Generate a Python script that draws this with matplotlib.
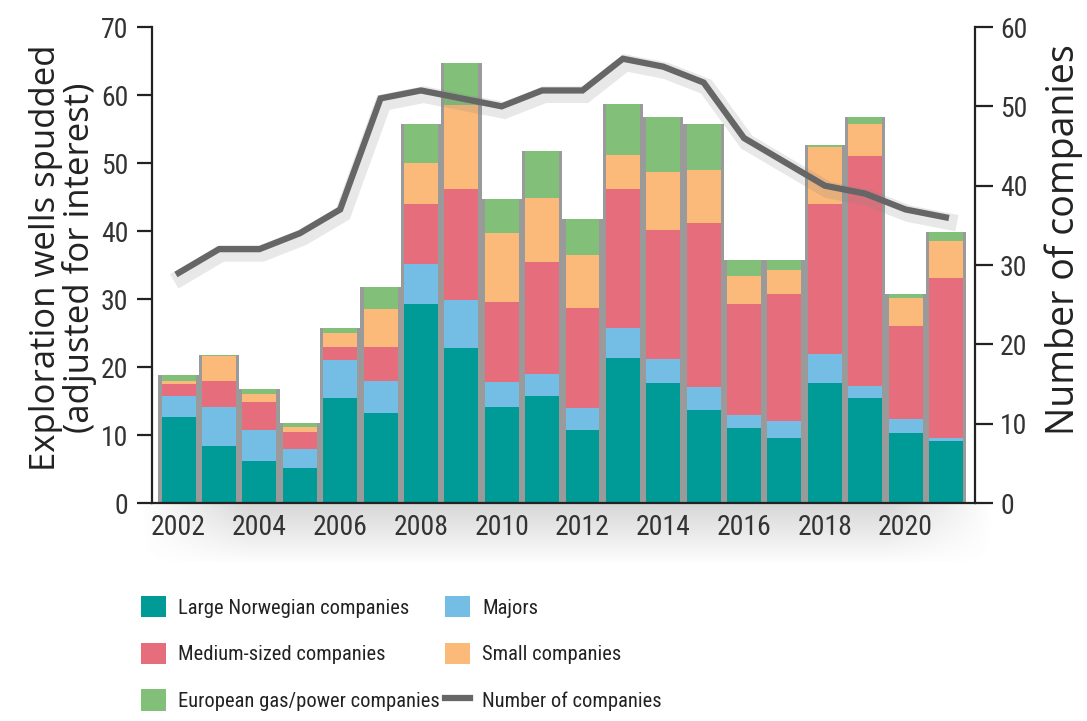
import numpy as np
import matplotlib
matplotlib.use('Agg')
import matplotlib.pyplot as plt
import matplotlib.patheffects as pe
from matplotlib import font_manager
from matplotlib.patches import Patch
from matplotlib.lines import Line2D

years = list(range(2002, 2022))

# wells spudded per company group (adjusted for interest)
large_norwegian = [12.7, 8.4, 6.2, 5.1, 15.5, 13.2, 29.3, 22.8, 14.1, 15.7,
                   10.7, 21.3, 17.7, 13.7, 11.0, 9.5, 17.6, 15.4, 10.3, 9.1]
majors = [3.1, 5.7, 4.6, 2.8, 5.5, 4.7, 5.9, 7.1, 3.7, 3.3,
          3.2, 4.4, 3.5, 3.4, 1.9, 2.6, 4.3, 1.8, 2.0, 0.4]
medium = [1.7, 3.9, 4.0, 2.5, 2.0, 5.1, 8.8, 16.3, 11.7, 16.4,
          14.8, 20.5, 18.9, 24.1, 16.3, 18.7, 22.1, 33.9, 13.8, 23.6]
small = [0.4, 3.6, 1.3, 0.8, 2.0, 5.5, 6.0, 12.3, 10.2, 9.5,
         7.8, 5.0, 8.6, 7.7, 4.2, 3.5, 8.3, 4.6, 4.1, 5.4]
european = [0.9, 0.2, 0.7, 0.5, 0.7, 3.3, 5.7, 6.2, 5.0, 6.8,
            5.2, 7.5, 8.0, 6.8, 2.3, 1.4, 0.4, 1.0, 0.5, 1.3]

n_companies = [29, 32, 32, 34, 37, 51, 52, 51, 50, 52,
               52, 56, 55, 53, 46, 43, 40, 39, 37, 36]

series = [
    ("Large Norwegian companies", large_norwegian, "#009a97"),
    ("Majors", majors, "#74bde4"),
    ("Medium-sized companies", medium, "#e66e7c"),
    ("Small companies", small, "#fbba7a"),
    ("European gas/power companies", european, "#82bf78"),
]
line_color = "#666666"

# pick a narrow font for ticks and legend if one is around
names = {f.name for f in font_manager.fontManager.ttflist}
narrow = None
for cand in ["Liberation Sans Narrow", "Roboto Condensed", "Open Sans Condensed"]:
    if cand in names:
        narrow = cand
        break
if narrow is None:
    narrow = "Liberation Sans"
label_font = "Open Sans" if "Open Sans" in names else "DejaVu Sans"

plt.rcParams['font.family'] = [narrow, 'DejaVu Sans']

fig = plt.figure(figsize=(10.87, 7.21), dpi=100)

# grey haze under the x axis (drop shadow of the plot)
haze = fig.add_axes([140/1087, 1-565/721, (995-140)/1087, 62/721], zorder=-1)
vert = np.linspace(0.32, 0.0, 64).reshape(-1, 1)
horiz = np.clip(np.minimum(np.linspace(0, 1, 200), np.linspace(1, 0, 200)) * 8, 0, 1).reshape(1, -1)
rgba = np.zeros((64, 200, 4))
rgba[..., :3] = 0.5
rgba[..., 3] = vert * horiz
haze.imshow(rgba, aspect='auto', extent=[0, 1, 0, 1], interpolation='bilinear')
haze.axis('off')

ax = fig.add_axes([152/1087, 1-503/721, (975-152)/1087, (503-27)/721])
ax2 = ax.twinx()

x = np.array(years)
totals = np.sum([s[1] for s in series], axis=0)

# soft grey "shadow" behind the bars
ax.bar(x, totals, width=1.0, color="#9a9a9a", zorder=0, linewidth=0)

bottom = np.zeros(len(years))
for name, vals, col in series:
    ax.bar(x, vals, bottom=bottom, width=0.84, color=col, linewidth=0, zorder=2)
    bottom += np.array(vals)

ax2.plot(x, n_companies, color=line_color, lw=4.5, solid_joinstyle='miter',
         path_effects=[pe.SimpleLineShadow(offset=(2, -3), shadow_color='gray', alpha=0.18, linewidth=12),
                       pe.Normal()])

ax.set_xlim(2001.34, 2021.72)
ax.set_ylim(0, 70)
ax2.set_ylim(0, 60)
ax.set_yticks(range(0, 71, 10))
ax2.set_yticks(range(0, 61, 10))
ax.set_xticks(range(2002, 2021, 2))

for a in (ax, ax2):
    for s in a.spines.values():
        s.set_visible(False)
    a.tick_params(labelsize=20, width=1.6, length=11, color='#222222', labelcolor='#333333')
ax.spines['left'].set_visible(True)
ax.spines['bottom'].set_visible(True)
ax2.spines['right'].set_visible(True)
for s in (ax.spines['left'], ax.spines['bottom'], ax2.spines['right']):
    s.set_linewidth(1.6)
    s.set_color('#222222')
ax.tick_params(axis='x', length=0, pad=8)
ax.tick_params(axis='y', pad=6)
ax2.tick_params(axis='y', pad=5, length=13)

fig.text(63/1087, 1-258/721, "Exploration wells spudded\n(adjusted for interest)",
         rotation=90, ha='center', va='center', multialignment='center',
         fontsize=25, family=label_font, color='#222222', linespacing=0.98)
fig.text(1064/1087, 1-240/721, "Number of companies", rotation=90,
         ha='center', va='center', fontsize=27, family=label_font, color='#222222')

h = {name: Patch(facecolor=col, edgecolor='none') for name, vals, col in series}
line_h = Line2D([0], [0], color=line_color, lw=4.5)

leg_kw = dict(frameon=False, fontsize=14.8, handlelength=1.22, handleheight=1.22,
              handletextpad=0.6, labelspacing=1.22, borderpad=0, borderaxespad=0,
              loc='upper left', labelcolor='#222222')
leg1 = fig.legend([h["Large Norwegian companies"], h["Medium-sized companies"],
                   h["European gas/power companies"]],
                  ["Large Norwegian companies", "Medium-sized companies",
                   "European gas/power companies"],
                  bbox_to_anchor=(141/1087, 1-596/721), **leg_kw)
leg2 = fig.legend([h["Majors"], h["Small companies"], line_h],
                  ["Majors", "Small companies", "Number of companies"],
                  bbox_to_anchor=(445/1087, 1-596/721), **leg_kw)

fig.savefig("out.png", dpi=100)
